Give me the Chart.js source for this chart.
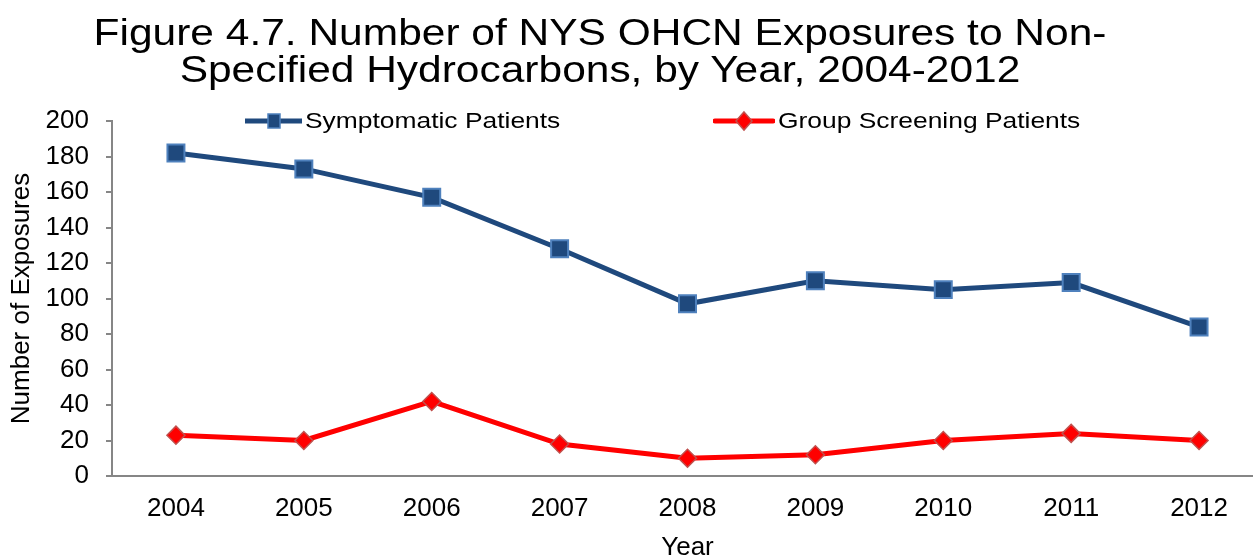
<!DOCTYPE html>
<html lang="en">
<head>
  <meta charset="UTF-8" />
  <title>NYS OHCN Exposures to Non-Specified Hydrocarbons</title>
  <script src="https://cdn.jsdelivr.net/npm/chart.js"></script>
  <style>
    body {
      margin: 0;
      background: #fff;
      overflow: hidden;
      font-family: "Liberation Sans", Arial, sans-serif;
    }
    .wrap {
      position: relative;
      width: 1253px;
      height: 555px;
      overflow: hidden;
    }
    .fig-title {
      position: absolute;
      left: 0;
      top: 14px;
      width: 1200px;
      text-align: center;
      font-size: 36px;
      line-height: 37px;
      color: #000;
      transform: scaleX(1.18);
      transform-origin: 600px 0;
      z-index: 2;
    }
    .legend-item {
      position: absolute;
      top: 109px;
      height: 24px;
      display: flex;
      align-items: center;
      z-index: 2;
    }
    .legend-item svg { display: block; }
    .legend-item span {
      font-size: 22px;
      line-height: 24px;
      margin-left: 3px;
      transform: scaleX(1.2);
      transform-origin: 0 50%;
      white-space: nowrap;
    }
    /* canvas is a bit larger than the frame; the plot runs off the right edge */
    #chart { position: absolute; left: 0; top: 0; }
  </style>
</head>
<body>

  <div class="wrap">
    <div class="fig-title">Figure 4.7. Number of NYS OHCN Exposures to Non-<br>Specified Hydrocarbons, by Year, 2004-2012</div>

    <!-- legend: line + marker swatches -->
    <div class="legend-item" style="left:245px;">
      <svg width="57" height="24">
        <line x1="0" y1="12" x2="57" y2="12" stroke="#1f497d" stroke-width="5" stroke-linecap="round" />
        <rect x="23" y="5" width="12" height="14" fill="#1f497d" stroke="#4f81bd" stroke-width="1.5" />
      </svg>
      <span>Symptomatic Patients</span>
    </div>
    <div class="legend-item" style="left:713px;">
      <svg width="62" height="24">
        <line x1="2" y1="12" x2="60" y2="12" stroke="#ff0000" stroke-width="5" stroke-linecap="round" />
        <polygon points="31,3 39,12 31,21 23,12" fill="#ff0000" stroke="#c0504d" stroke-width="1.5" />
      </svg>
      <span>Group Screening Patients</span>
    </div>

    <canvas id="chart" width="1277" height="563"></canvas>
  </div>

  <script>
    const years = ['2004', '2005', '2006', '2007', '2008', '2009', '2010', '2011', '2012'];
    const symptomatic = [182, 173, 157, 128, 97, 110, 105, 109, 84];
    const groupScreening = [23, 20, 42, 18, 10, 12, 20, 24, 20];
    const yTicks = [0, 20, 40, 60, 80, 100, 120, 140, 160, 180, 200];

    const axisGray = '#868686';
    const labelFont = { family: '"Liberation Sans", Arial, sans-serif', size: 26 };

    new Chart(document.getElementById('chart'), {
      type: 'line',
      data: {
        labels: years,
        datasets: [
          {
            label: 'Symptomatic Patients',
            data: symptomatic,
            borderColor: '#1f497d',
            borderWidth: 5,
            pointStyle: 'rect',
            pointRadius: 12,
            pointBackgroundColor: '#1f497d',
            pointBorderColor: '#4f81bd',
            pointBorderWidth: 2,
            tension: 0
          },
          {
            label: 'Group Screening Patients',
            data: groupScreening,
            borderColor: '#ff0000',
            borderWidth: 5,
            pointStyle: 'rectRot',
            pointRadius: 9,
            pointBackgroundColor: '#ff0000',
            pointBorderColor: '#c0504d',
            pointBorderWidth: 1.5,
            tension: 0
          }
        ]
      },
      options: {
        responsive: false,
        animation: false,
        layout: { padding: { top: 121, left: 0, right: 0, bottom: 0 } },
        plugins: {
          legend: { display: false },
          tooltip: { enabled: false }
        },
        scales: {
          x: {
            offset: true,
            grid: { display: false, drawTicks: false },
            border: { color: axisGray, width: 2 },
            ticks: { color: '#000', font: labelFont, padding: 17 },
            title: { display: true, text: 'Year', color: '#000', font: labelFont, padding: 0 },
            afterFit: (scale) => { scale.height = 87; }
          },
          y: {
            min: 0,
            max: 200,
            afterBuildTicks: (scale) => { scale.ticks = yTicks.map(v => ({ value: v })); },
            grid: { drawOnChartArea: false, tickLength: 6, color: axisGray, lineWidth: 2 },
            border: { color: axisGray, width: 2 },
            ticks: { color: '#000', font: labelFont, padding: 17 },
            title: { display: true, text: 'Number of Exposures', color: '#000', font: labelFont, padding: { top: 6, bottom: 0 } },
            afterFit: (scale) => { scale.width = 112; }
          }
        }
      }
    });
  </script>

</body>
</html>
